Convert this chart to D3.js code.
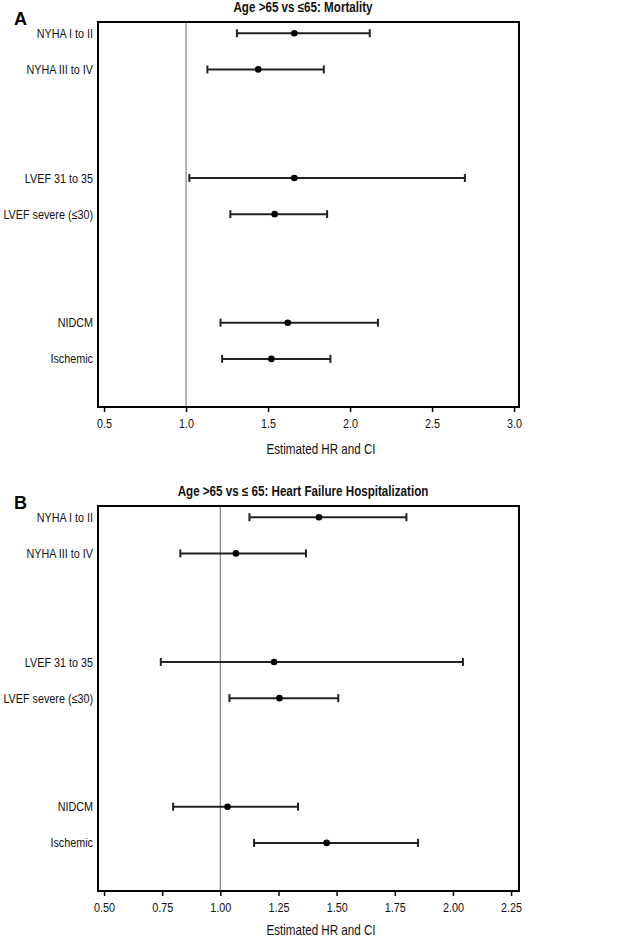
<!DOCTYPE html>
<html>
<head>
<meta charset="utf-8">
<script src="https://cdn.jsdelivr.net/npm/d3@7"></script>
<style>
  html, body { margin: 0; padding: 0; background: #fff; }
  svg { display: block; }
  text { font-family: "Liberation Sans", Arial, sans-serif; }
</style>
</head>
<body>
<svg id="chart" width="617" height="939"></svg>
<script>
// ---- data ----
const categories = ["NYHA I to II", "NYHA III to IV", "LVEF 31 to 35", "LVEF severe (\u226430)", "NIDCM", "Ischemic"];
const rowSlots = [0, 1, 4, 5, 8, 9];

const mortalityHR   = [1.66, 1.44, 1.66, 1.54, 1.62, 1.52];
const mortalityLow  = [1.31, 1.13, 1.02, 1.27, 1.21, 1.22];
const mortalityHigh = [2.12, 1.84, 2.70, 1.86, 2.17, 1.88];
const mortalityTicks = [0.5, 1.0, 1.5, 2.0, 2.5, 3.0];

const hfhHR   = [1.424, 1.067, 1.231, 1.254, 1.031, 1.457];
const hfhLow  = [1.125, 0.828, 0.744, 1.039, 0.797, 1.145];
const hfhHigh = [1.800, 1.368, 2.043, 1.507, 1.334, 1.850];
const hfhTicks = [0.50, 0.75, 1.00, 1.25, 1.50, 1.75, 2.00, 2.25];

const titleA = "Age >65 vs \u226465: Mortality";
const titleB = "Age >65 vs \u2264 65: Heart Failure Hospitalization";
const xLabel = "Estimated HR and CI";

// ---- drawing ----
const svg = d3.select("#chart");
const SX = 0.83; // horizontal condensing to mimic narrow Helvetica

function placeNarrow(sel, x, y) {
  return sel.attr("x", 0).attr("y", 0)
    .attr("transform", (d, i) => {
      const xx = typeof x === "function" ? x(d, i) : x;
      const yy = typeof y === "function" ? y(d, i) : y;
      return `translate(${xx},${yy}) scale(${SX},1)`;
    });
}

function panel(opts) {
  const { top, letter, title, hr, lo, hi, ticks, domain, tickFmt, labelDy } = opts;
  const left = 98, right = 519, height = 385;
  const g = svg.append("g").attr("transform", `translate(0,${top})`);

  const x = d3.scaleLinear().domain(domain).range([left, right]);
  const y = d3.scaleLinear().domain([-0.31, 10.33]).range([0, height]);

  // reference line at HR = 1
  g.append("line")
    .attr("x1", x(1)).attr("x2", x(1))
    .attr("y1", 0).attr("y2", height)
    .attr("stroke", "#8a8a8a").attr("stroke-width", 1.3);

  const rows = categories.map((c, i) => ({ c, slot: rowSlots[i], hr: hr[i], lo: lo[i], hi: hi[i] }));

  const rg = g.selectAll("g.row").data(rows).join("g").attr("class", "row");
  rg.append("line")
    .attr("x1", d => x(d.lo)).attr("x2", d => x(d.hi))
    .attr("y1", d => y(d.slot)).attr("y2", d => y(d.slot))
    .attr("stroke", "#222").attr("stroke-width", 2);
  rg.append("line")
    .attr("x1", d => x(d.lo)).attr("x2", d => x(d.lo))
    .attr("y1", d => y(d.slot) - 4).attr("y2", d => y(d.slot) + 4)
    .attr("stroke", "#222").attr("stroke-width", 2);
  rg.append("line")
    .attr("x1", d => x(d.hi)).attr("x2", d => x(d.hi))
    .attr("y1", d => y(d.slot) - 4).attr("y2", d => y(d.slot) + 4)
    .attr("stroke", "#222").attr("stroke-width", 2);
  rg.append("circle")
    .attr("cx", d => x(d.hr)).attr("cy", d => y(d.slot))
    .attr("r", 3.3).attr("fill", "#000");
  rg.append("text")
    .call(placeNarrow, 93, d => y(d.slot))
    .attr("dy", "0.35em")
    .attr("text-anchor", "end")
    .attr("font-size", 13)
    .attr("fill", "#111")
    .text(d => d.c);

  // frame
  g.append("rect")
    .attr("x", left).attr("y", 0)
    .attr("width", right - left).attr("height", height)
    .attr("fill", "none").attr("stroke", "#000").attr("stroke-width", 2);

  // x axis
  const ax = g.append("g")
    .attr("transform", `translate(0,${height})`)
    .call(d3.axisBottom(x).tickValues(ticks).tickFormat(tickFmt).tickSize(5).tickPadding(7));
  ax.attr("font-family", null).attr("font-size", null);
  ax.select(".domain").remove();
  ax.selectAll(".tick line").attr("stroke", "#000").attr("stroke-width", 1.5);
  ax.selectAll(".tick text")
    .attr("transform", `scale(${SX},1)`)
    .attr("font-size", 13).attr("fill", "#111");

  g.append("text")
    .call(placeNarrow, 321, height + labelDy)
    .attr("text-anchor", "middle")
    .attr("font-size", 14).attr("fill", "#111")
    .text(xLabel);

  // title
  g.append("text")
    .call(placeNarrow, 303, -10)
    .attr("text-anchor", "middle")
    .attr("font-size", 14).attr("font-weight", "bold").attr("fill", "#111")
    .text(title);

  // panel letter
  g.append("text")
    .attr("x", 14).attr("y", 3)
    .attr("font-size", 18).attr("font-weight", "bold").attr("fill", "#000")
    .text(letter);
}

panel({
  top: 22, letter: "A", title: titleA,
  hr: mortalityHR, lo: mortalityLow, hi: mortalityHigh,
  ticks: mortalityTicks, domain: [0.463, 3.03], tickFmt: d3.format(".1f"), labelDy: 47
});

panel({
  top: 506, letter: "B", title: titleB,
  hr: hfhHR, lo: hfhLow, hi: hfhHigh,
  ticks: hfhTicks, domain: [0.474, 2.284], tickFmt: d3.format(".2f"), labelDy: 44
});
</script>
</body>
</html>
